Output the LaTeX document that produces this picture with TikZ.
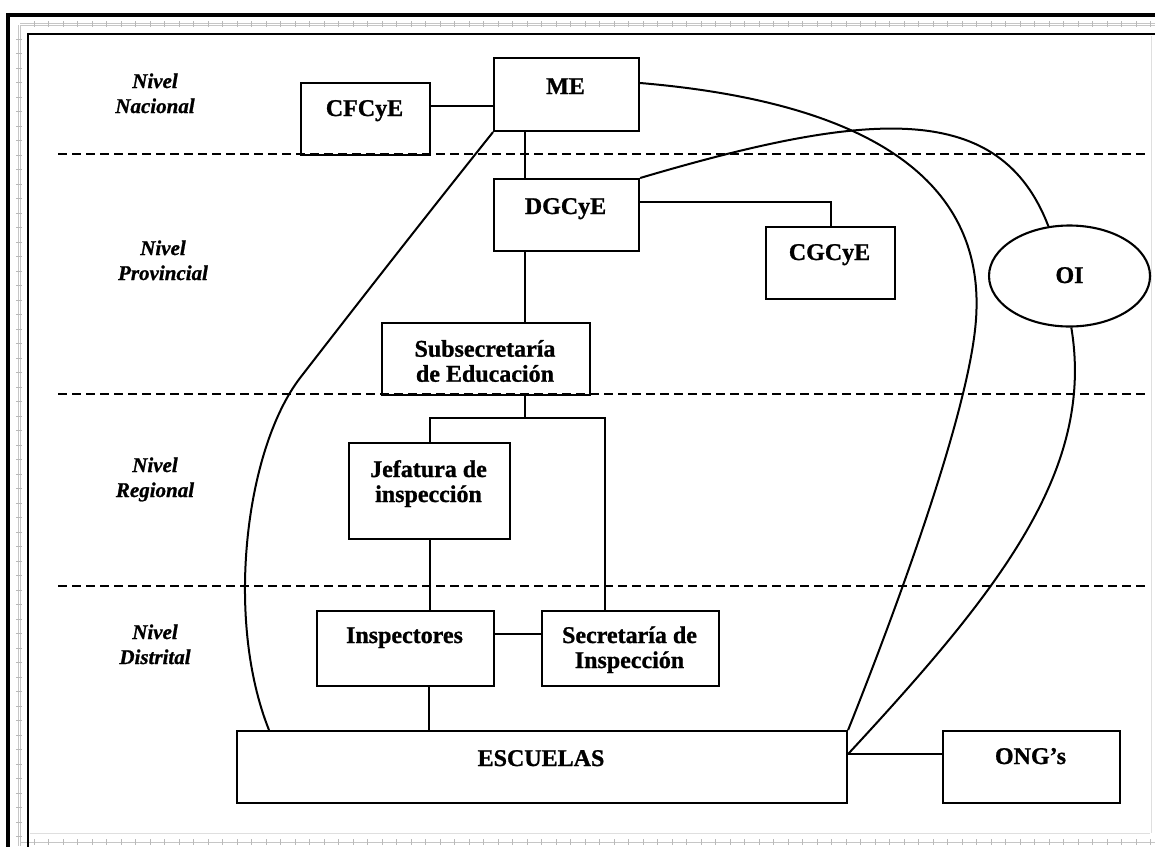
\documentclass[tikz,border=0pt]{standalone}
\usepackage{fontspec}
\setmainfont{Liberation Serif}[BoldFeatures={FakeBold=1}, BoldItalicFeatures={FakeBold=1}]
\usetikzlibrary{shapes.geometric}
\newcommand{\twolines}[2]{\begin{tabular}[t]{@{}c@{}}#1\\#2\end{tabular}}
\begin{document}
\begin{tikzpicture}[x=1pt,y=-1pt,
  box/.style={draw, line width=2.1pt, anchor=north west, inner sep=0pt},
  lbl/.style={anchor=base, inner sep=0pt, font=\fontsize{24}{25}\selectfont\bfseries},
  lvl/.style={anchor=base, inner sep=0pt, font=\fontsize{21}{25}\selectfont\bfseries\itshape},
  conn/.style={line width=2pt},
  levelline/.style={line width=2.2pt, dash pattern=on 9pt off 5pt},
  ruler/.style={gray!45, line width=0.8pt}]
\useasboundingbox (0,0) rectangle (1155,846);
\clip (0,0) rectangle (1155,846);
% page frame
\draw[ruler] (20,25) -- (1155,25);
\draw[ruler] (20,23) -- (1155,23);
\draw[ruler] (20,25) -- (20,846);
\draw[ruler] (18,25) -- (18,846);
\draw[ruler] (20,842) -- (1155,842);
\draw[gray!25, line width=0.8pt] (30,833) -- (1150,833);
\draw[gray!25, line width=0.8pt] (1151,36) -- (1151,833);
\foreach \t in {34,48.5,...,1155} {\draw[gray!55, line width=0.5pt] (\t,21) -- (\t,27); \draw[gray!55, line width=0.5pt] (\t,839) -- (\t,845);}
\foreach \t in {39,53.5,...,846} {\draw[gray!55, line width=0.5pt] (16,\t) -- (22,\t);}
\draw[line width=4.5pt] (8,15) -- (1160,15);
\draw[line width=4.5pt] (8,12.8) -- (8,850);
\draw[line width=2.2pt] (28,34) -- (1160,34);
\draw[line width=2.2pt] (28,32.9) -- (28,850);
% level separators
\draw[levelline] (58,154) -- (1148,154);
\draw[levelline] (58,394) -- (1148,394);
\draw[levelline] (58,586) -- (1148,586);
% level labels
\node[lvl] (lnac) at (155,88) {\twolines{Nivel}{Nacional}};
\node[lvl] (lprov) at (163,255) {\twolines{Nivel}{Provincial}};
\node[lvl] (lreg) at (155,472) {\twolines{Nivel}{Regional}};
\node[lvl] (ldist) at (155,639) {\twolines{Nivel}{Distrital}};
% boxes
\node[box, minimum width=145pt, minimum height=73pt] (me) at (493,57) {};
\node[box, minimum width=129pt, minimum height=72pt] (cfcye) at (300,82) {};
\node[box, minimum width=145pt, minimum height=72pt] (dgcye) at (493,178) {};
\node[box, minimum width=129pt, minimum height=72pt] (cgcye) at (765,226) {};
\node[box, minimum width=208pt, minimum height=72pt] (subsec) at (381,322) {};
\node[box, minimum width=161pt, minimum height=96pt] (jef) at (348,442) {};
\node[box, minimum width=177pt, minimum height=75pt] (insp) at (316,610) {};
\node[box, minimum width=177pt, minimum height=75pt] (secre) at (541,610) {};
\node[box, minimum width=610pt, minimum height=72pt] (esc) at (236,730) {};
\node[box, minimum width=177pt, minimum height=72pt] (ong) at (942,730) {};
\node[draw, ellipse, line width=2.1pt, inner sep=0pt, minimum width=161pt, minimum height=101pt] (oi) at (1069.5,276) {};
% texts
\node[lbl] (meT) at (565.5,94) {ME};
\node[lbl] (cfcyeT) at (364.5,116) {CFCyE};
\node[lbl] (dgcyeT) at (565.5,214) {DGCyE};
\node[lbl] (cgcyeT) at (829.5,260) {CGCyE};
\node[lbl] (subsecT) at (485,356.7) {\twolines{Subsecretaría}{de Educación}};
\node[lbl] (jefT) at (428.5,477) {\twolines{Jefatura de}{inspección}};
\node[lbl] (inspT) at (404.5,643) {Inspectores};
\node[lbl] (secreT) at (629.5,643) {\twolines{Secretaría de}{Inspección}};
\node[lbl] (escT) at (541,766) {ESCUELAS};
\node[lbl] (ongT) at (1030.5,764) {ONG’s};
\node[lbl] (oiT) at (1069.5,283) {OI};
% straight connectors
\coordinate (split) at (525,418);
\draw[conn] (cfcye.east |- 0,106) -- (me.west |- 0,106);
\draw[conn] (525,0 |- me.south) -- (525,0 |- dgcye.north);
\draw[conn] (dgcye.east |- 0,202) -| (cgcye.north);
\draw[conn] (525,0 |- dgcye.south) -- (525,0 |- subsec.north);
\draw[conn] (525,0 |- subsec.south) -- (split);
\draw[conn] (jef.north) |- (split) -| (605,0 |- secre.north);
\draw[conn] (jef.south) -- (jef.south |- insp.north);
\draw[conn] (insp.east |- 0,634) -- (secre.west |- 0,634);
\draw[conn] (429,0 |- insp.south) -- (429,0 |- esc.north);
\draw[conn] (esc.east |- 0,754) -- (ong.west |- 0,754);
% curved connectors
\draw[conn] (me.east |- 0,83) .. controls (900,105) and (990,200) .. (975,330)
  .. controls (965,420) and (900,600) .. (esc.north east);
\draw[conn] (dgcye.north east) .. controls (870,110) and (1000,100) .. (oi.113);
\draw[conn] (me.south west) .. controls (430,211) and (365,294) .. (300,378)
  .. controls (245,450) and (225,620) .. (269,0 |- esc.north);
\draw[conn] (esc.east |- 0,754) .. controls (1000,590) and (1095,470) .. (oi.272);
\end{tikzpicture}
\end{document}
